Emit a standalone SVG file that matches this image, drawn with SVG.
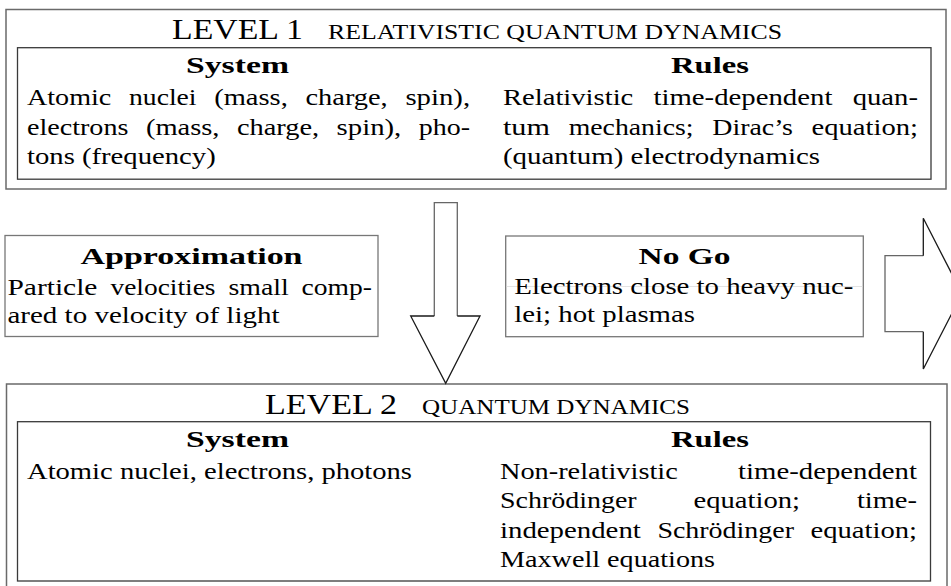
<svg xmlns="http://www.w3.org/2000/svg" width="951" height="586" viewBox="0 0 951 586">
<style>
text{font-family:"Liberation Serif","Times New Roman",serif;font-size:24px;fill:#000}
.b{font-weight:bold}
.ti{font-size:30px}
.sc{font-size:20.5px}
.outer{fill:none;stroke:#6a6a6a;stroke-width:1.5}
.inner{fill:none;stroke:#3a3a3a;stroke-width:1.3}
.box{fill:#fff;stroke:#777;stroke-width:1.3}
.shaft{fill:none;stroke:#666;stroke-width:1.3}
.head{fill:none;stroke:#1a1a1a;stroke-width:1.3;stroke-linejoin:miter}
</style>
<rect width="951" height="586" fill="#fff"/>

<g id="level1">
<rect class="outer" x="6" y="9.5" width="940" height="179.5"/>
<text class="ti" x="172" y="38.5" textLength="131" lengthAdjust="spacingAndGlyphs">LEVEL 1</text>
<text class="sc" x="328" y="38.5" textLength="454" lengthAdjust="spacingAndGlyphs">RELATIVISTIC QUANTUM DYNAMICS</text>
<rect class="inner" x="17.5" y="47.7" width="913.5" height="131.5"/>
<text class="b" x="186" y="72.5" textLength="103" lengthAdjust="spacingAndGlyphs">System</text>
<text class="b" x="671" y="72.5" textLength="78" lengthAdjust="spacingAndGlyphs">Rules</text>
<text y="105"><tspan x="27" textLength="84.3" lengthAdjust="spacingAndGlyphs">Atomic</tspan> <tspan x="129" textLength="67.5" lengthAdjust="spacingAndGlyphs">nuclei</tspan> <tspan x="214.2" textLength="73.6" lengthAdjust="spacingAndGlyphs">(mass,</tspan> <tspan x="305.5" textLength="82.2" lengthAdjust="spacingAndGlyphs">charge,</tspan> <tspan x="405.4" textLength="64.7" lengthAdjust="spacingAndGlyphs">spin),</tspan></text>
<text y="134.7"><tspan x="27" textLength="101.4" lengthAdjust="spacingAndGlyphs">electrons</tspan> <tspan x="145.9" textLength="73.6" lengthAdjust="spacingAndGlyphs">(mass,</tspan> <tspan x="236.9" textLength="82.2" lengthAdjust="spacingAndGlyphs">charge,</tspan> <tspan x="336.6" textLength="64.7" lengthAdjust="spacingAndGlyphs">spin),</tspan> <tspan x="418.7" textLength="51.3" lengthAdjust="spacingAndGlyphs">pho-</tspan></text>
<text x="27" y="164.4" textLength="188.7" lengthAdjust="spacingAndGlyphs">tons (frequency)</text>
<text y="105"><tspan x="503" textLength="130.3" lengthAdjust="spacingAndGlyphs">Relativistic</tspan> <tspan x="653.5" textLength="178.9" lengthAdjust="spacingAndGlyphs">time-dependent</tspan> <tspan x="852.7" textLength="65.3" lengthAdjust="spacingAndGlyphs">quan-</tspan></text>
<text y="134.7"><tspan x="503" textLength="46.9" lengthAdjust="spacingAndGlyphs">tum</tspan> <tspan x="568.7" textLength="124.8" lengthAdjust="spacingAndGlyphs">mechanics;</tspan> <tspan x="712.3" textLength="80.5" lengthAdjust="spacingAndGlyphs">Dirac’s</tspan> <tspan x="811.6" textLength="106.4" lengthAdjust="spacingAndGlyphs">equation;</tspan></text>
<text x="503" y="164.4" textLength="317" lengthAdjust="spacingAndGlyphs">(quantum) electrodynamics</text>
</g>

<g id="approximation">
<rect class="box" x="5" y="235.5" width="373" height="101"/>
<text class="b" x="80.5" y="263.5" textLength="222" lengthAdjust="spacingAndGlyphs">Approximation</text>
<text y="294.5"><tspan x="7.5" textLength="89.9" lengthAdjust="spacingAndGlyphs">Particle</tspan> <tspan x="110.5" textLength="105" lengthAdjust="spacingAndGlyphs">velocities</tspan> <tspan x="228.5" textLength="60.3" lengthAdjust="spacingAndGlyphs">small</tspan> <tspan x="301.6" textLength="70.4" lengthAdjust="spacingAndGlyphs">comp-</tspan></text>
<text x="7.5" y="322.5" textLength="272" lengthAdjust="spacingAndGlyphs">ared to velocity of light</text>
</g>

<g id="nogo">
<rect class="box" x="505.7" y="236" width="357.6" height="100.7"/>
<line x1="506.5" y1="286.5" x2="862.5" y2="286.5" stroke="#dcdcdc" stroke-width="0.8"/>
<text class="b" x="638.5" y="264" textLength="92" lengthAdjust="spacingAndGlyphs">No Go</text>
<text x="514.3" y="293.5" textLength="339" lengthAdjust="spacingAndGlyphs">Electrons close to heavy nuc-</text>
<text x="514.3" y="322" textLength="180.7" lengthAdjust="spacingAndGlyphs">lei; hot plasmas</text>
</g>

<g id="level2">
<rect class="outer" x="6.5" y="384" width="940.5" height="215"/>
<text class="ti" x="265" y="414" textLength="132" lengthAdjust="spacingAndGlyphs">LEVEL 2</text>
<text class="sc" x="422" y="414" textLength="268" lengthAdjust="spacingAndGlyphs">QUANTUM DYNAMICS</text>
<rect class="inner" x="17.5" y="421.7" width="913" height="159.3"/>
<text class="b" x="186" y="446.5" textLength="103" lengthAdjust="spacingAndGlyphs">System</text>
<text class="b" x="671" y="446.5" textLength="78" lengthAdjust="spacingAndGlyphs">Rules</text>
<text x="27" y="478.5" textLength="385" lengthAdjust="spacingAndGlyphs">Atomic nuclei, electrons, photons</text>
<text y="478.5"><tspan x="500" textLength="177.7" lengthAdjust="spacingAndGlyphs">Non-relativistic</tspan> <tspan x="738.1" textLength="178.9" lengthAdjust="spacingAndGlyphs">time-dependent</tspan></text>
<text y="508"><tspan x="500" textLength="136.6" lengthAdjust="spacingAndGlyphs">Schrödinger</tspan> <tspan x="693.6" textLength="106.4" lengthAdjust="spacingAndGlyphs">equation;</tspan> <tspan x="856.9" textLength="60.1" lengthAdjust="spacingAndGlyphs">time-</tspan></text>
<text y="537.5"><tspan x="500" textLength="140.8" lengthAdjust="spacingAndGlyphs">independent</tspan> <tspan x="657.4" textLength="136.6" lengthAdjust="spacingAndGlyphs">Schrödinger</tspan> <tspan x="810.6" textLength="106.4" lengthAdjust="spacingAndGlyphs">equation;</tspan></text>
<text x="500" y="567" textLength="215" lengthAdjust="spacingAndGlyphs">Maxwell equations</text>
</g>

<g id="connectors">
<g id="arrow-down">
<polygon points="434.3,202.7 457.3,202.7 457.3,316 480,316 445.7,383.3 410.7,316 434.3,316" fill="#fff" stroke="none"/>
<polyline class="shaft" points="434.3,316 434.3,202.7 457.3,202.7 457.3,316"/>
<polyline class="head" points="457.3,316 480,316 445.7,383.3 410.7,316 434.3,316"/>
</g>
<g id="arrow-right">
<polygon points="885,255.7 923.3,255.7 923.3,218.3 962,293.7 923.3,369 923.3,331.7 885,331.7" fill="#fff" stroke="none"/>
<polyline class="shaft" points="923.3,255.7 885,255.7 885,331.7 923.3,331.7"/>
<polyline class="head" points="923.3,255.7 923.3,218.3 962,293.7 923.3,369 923.3,331.7"/>
</g>
</g>
</svg>
